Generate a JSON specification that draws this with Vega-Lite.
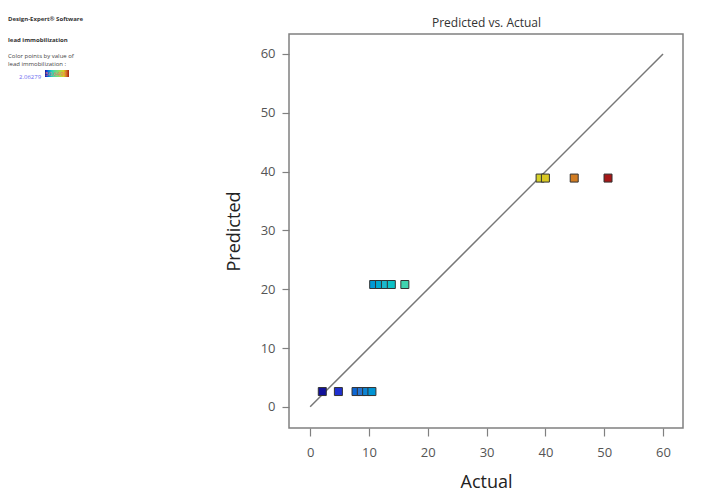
{
  "$schema": "https://vega.github.io/schema/vega-lite/v6.json",
  "width": 394,
  "height": 394,
  "autosize": "none",
  "padding": {"left": 289, "top": 34, "right": 43, "bottom": 63},
  "background": "white",
  "config": {
    "font": "Open Sans",
    "view": {"stroke": "#808080", "strokeWidth": 1.5}
  },
  "title": {
    "text": ["Design-Expert® Software", "lead immobilization"],
    "subtitle": ["Color points by value of", "lead immobilization :"],
    "anchor": "start", "frame": "group", "orient": "top",
    "dx": -281, "dy": 51, "offset": 0,
    "fontSize": 6, "fontWeight": "bold", "color": "#333333", "lineHeight": 21,
    "subtitleFontSize": 6, "subtitleColor": "#444444", "subtitleLineHeight": 8, "subtitlePadding": 10
  },
  "datasets": {
    "runs": [
      {"actual": 2.06, "predicted": 2.6},
      {"actual": 4.8, "predicted": 2.6},
      {"actual": 7.8, "predicted": 2.6},
      {"actual": 8.7, "predicted": 2.6},
      {"actual": 9.6, "predicted": 2.6},
      {"actual": 10.5, "predicted": 2.6},
      {"actual": 10.8, "predicted": 20.8},
      {"actual": 11.8, "predicted": 20.8},
      {"actual": 12.8, "predicted": 20.8},
      {"actual": 13.8, "predicted": 20.8},
      {"actual": 16.1, "predicted": 20.8},
      {"actual": 39.1, "predicted": 38.9},
      {"actual": 40.0, "predicted": 38.9},
      {"actual": 44.9, "predicted": 38.9},
      {"actual": 50.65, "predicted": 38.9}
    ],
    "fit": [
      {"actual": 0, "predicted": 0},
      {"actual": 60, "predicted": 60}
    ]
  },
  "encoding": {
    "y": {
      "field": "predicted", "type": "quantitative",
      "scale": {"domain": [-3.6, 63.4], "nice": false, "zero": false},
      "axis": {
        "title": "Predicted", "values": [0, 10, 20, 30, 40, 50, 60], "grid": false, "domain": false,
        "tickSize": 7, "tickColor": "#808080", "tickWidth": 1.2,
        "labelColor": "#555555", "labelFontSize": 13, "labelPadding": 7,
        "titleFontSize": 18, "titleFontWeight": "normal", "titleColor": "#222222", "titlePadding": 17
      }
    }
  },
  "layer": [
    {
      "data": {"name": "fit"},
      "mark": {"type": "line", "color": "#777777", "strokeWidth": 1.5},
      "encoding": {
        "x": {
          "field": "actual", "type": "quantitative",
          "scale": {"domain": [-3.6, 63.4], "nice": false, "zero": false},
          "axis": {
            "orient": "top", "title": "Predicted vs. Actual", "labels": false, "ticks": false,
            "domain": false, "grid": false,
            "titleFontSize": 12, "titleFontWeight": "normal", "titleColor": "#333333", "titlePadding": 5
          }
        }
      }
    },
    {
      "data": {"name": "runs"},
      "mark": {"type": "square", "size": 64, "filled": true, "stroke": "#333333", "strokeWidth": 1, "opacity": 1},
      "encoding": {
        "x": {
          "field": "actual", "type": "quantitative",
          "scale": {"domain": [-3.6, 63.4], "nice": false, "zero": false},
          "axis": {
            "orient": "bottom", "title": "Actual", "values": [0, 10, 20, 30, 40, 50, 60], "grid": false, "domain": false,
            "tickSize": 8, "tickColor": "#808080", "tickWidth": 1.2,
            "labelColor": "#555555", "labelFontSize": 13, "labelPadding": 10,
            "titleFontSize": 18, "titleFontWeight": "normal", "titleColor": "#222222", "titlePadding": 14
          }
        },
        "color": {
          "field": "actual", "type": "quantitative",
          "scale": {
            "domain": [2.06279, 4.8, 9, 12.5, 16, 39.5, 45, 50.6491],
            "range": ["#12129a", "#1f30d0", "#2f78d0", "#22b4cc", "#40d4b0", "#d8d028", "#d17a22", "#a51717"]
          },
          "legend": {
            "orient": "none", "legendX": -270, "legendY": 36,
            "direction": "horizontal", "gradientLength": 24, "gradientThickness": 7, "gradientStrokeWidth": 0,
            "title": "2.06279", "titleOrient": "left", "titleFontSize": 6, "titleFontWeight": "normal",
            "titleColor": "#6b6bf0", "titlePadding": 3, "titleBaseline": "top",
            "values": [2.06279], "labelOverlap": false,
            "labelExpr": "'\u00a0\u00a0\u00a0\u00a0\u00a0\u00a0\u00a0\u00a0\u00a0\u00a0\u00a0\u00a0\u00a0\u00a0\u00a0\u00a0\u00a050.6491'",
            "labelColor": "#f06b6b",
            "labelOffset": -6.5,
            "labelFontSize": 6
          }
        }
      }
    }
  ],
  "resolve": {"axis": {"x": "independent"}}
}
